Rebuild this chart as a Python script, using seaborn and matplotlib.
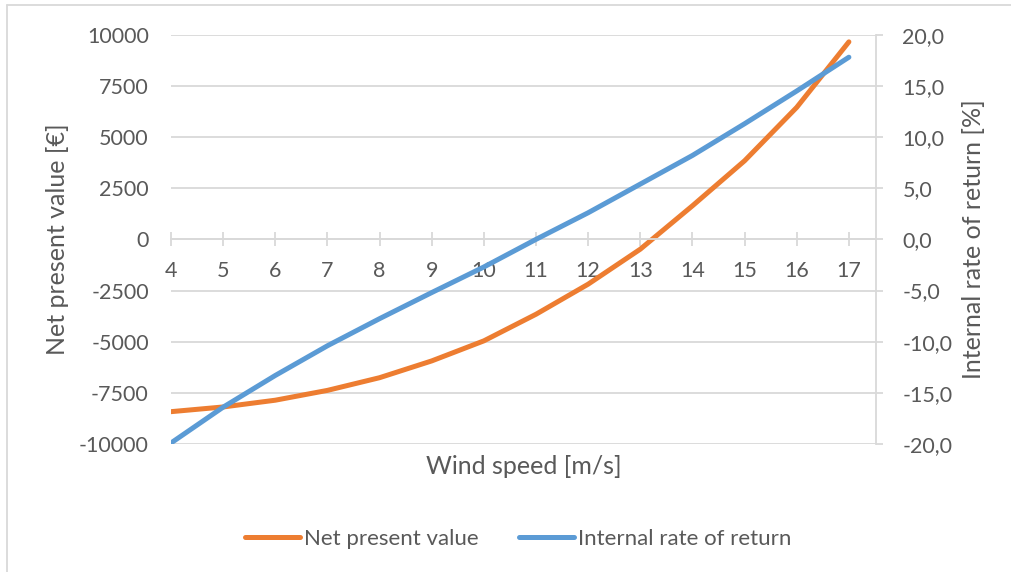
import matplotlib
matplotlib.use("Agg")
import matplotlib.pyplot as plt
from matplotlib.ticker import FuncFormatter, MultipleLocator
from matplotlib.lines import Line2D
import pandas as pd
import seaborn as sns

# Wind speed categories [m/s]
wind_speed = [4, 5, 6, 7, 8, 9, 10, 11, 12, 13, 14, 15, 16, 17]
# Net present value [EUR]
npv = [-8420, -8190, -7860, -7380, -6760, -5940, -4960,
       -3660, -2190, -480, 1640, 3840, 6450, 9650]
# Internal rate of return [%]
irr = [-19.9, -16.4, -13.3, -10.4, -7.75, -5.2, -2.7,
       0.0, 2.6, 5.4, 8.2, 11.3, 14.5, 17.8]

df = pd.DataFrame({"wind": wind_speed, "npv": npv, "irr": irr})

sns.set_theme(style="white")
plt.rcParams["font.family"] = ["Lato", "DejaVu Sans"]
plt.rcParams["axes.unicode_minus"] = False

TEXT = "#595959"
GRID = "#D9D9D9"
ORANGE = "#ED7D31"
BLUE = "#5B9BD5"
TICK_FS = 15.5
TITLE_FS = 18
LEG_FS = 16

W, H = 1012, 572
fig = plt.figure(figsize=(W / 100, H / 100), dpi=100)
ax = fig.add_axes([171 / W, 1 - 444 / H, (876 - 171) / W, (444 - 34.7) / H])
ax2 = ax.twinx()

sns.lineplot(data=df, x="wind", y="npv", ax=ax, color=ORANGE, linewidth=3.6,
             solid_capstyle="round", legend=False)
sns.lineplot(data=df, x="wind", y="irr", ax=ax2, color=BLUE, linewidth=3.6,
             solid_capstyle="round", legend=False)

# Left axis: net present value
ax.set_xlim(4, 17.52)
ax.set_ylim(-10000, 10000)
ax.yaxis.set_major_locator(MultipleLocator(2500))
ax.grid(axis="y", color=GRID, linewidth=1.3)
ax.grid(axis="x", visible=False)
for s in ["top", "right", "left"]:
    ax.spines[s].set_visible(False)
ax.spines["bottom"].set_position(("data", 0))
ax.spines["bottom"].set_color(GRID)
ax.spines["bottom"].set_linewidth(1.3)
ax.set_xticks(wind_speed)
ax.set_xticklabels([str(v) for v in wind_speed])
ax.tick_params(axis="x", direction="inout", length=10.5, width=1.3, color=GRID,
               labelsize=TICK_FS, labelcolor=TEXT, pad=10, bottom=True)
ax.tick_params(axis="y", length=0, labelsize=TICK_FS, labelcolor=TEXT, pad=16)
ax.set_ylabel("Net present value [€]", fontsize=TITLE_FS, color=TEXT)
ax.yaxis.set_label_coords(58 / W, 1 - 239.5 / H, transform=fig.transFigure)
ax.yaxis.label.set_va("center")
ax.set_xlabel("Wind speed [m/s]", fontsize=TITLE_FS, color=TEXT)
ax.xaxis.set_label_coords(0.5 * (171 + 876) / W, 1 - 466 / H, transform=fig.transFigure)
ax.xaxis.label.set_va("center")

# Right axis: internal rate of return
ax2.set_ylim(-20, 20)
ax2.yaxis.set_major_locator(MultipleLocator(5))
ax2.yaxis.set_major_formatter(FuncFormatter(lambda v, p: f"{v:.1f}".replace(".", ",")))
ax2.grid(False)
for s in ["top", "left", "bottom"]:
    ax2.spines[s].set_visible(False)
ax2.spines["right"].set_color(GRID)
ax2.spines["right"].set_linewidth(1.3)
ax2.tick_params(axis="y", direction="out", length=5, width=1.3, color=GRID,
                labelsize=TICK_FS, labelcolor=TEXT, pad=14, right=True)
ax2.set_ylabel("Internal rate of return [%]", fontsize=TITLE_FS, color=TEXT)
ax2.yaxis.set_label_coords(974 / W, 1 - 239.5 / H, transform=fig.transFigure)
ax2.yaxis.label.set_va("center")

# Legend below the plot
handles = [Line2D([], [], color=ORANGE, linewidth=3.6, solid_capstyle="round"),
           Line2D([], [], color=BLUE, linewidth=3.6, solid_capstyle="round")]
fig.legend(handles, ["Net present value", "Internal rate of return"],
           loc="center", bbox_to_anchor=(518 / W, 1 - 539 / H), ncol=2,
           frameon=False, fontsize=LEG_FS, labelcolor=TEXT, handlelength=2.5,
           handletextpad=0.17, columnspacing=1.8)

# Chart area border
fig.add_artist(Line2D([7 / W, 7 / W], [0, 1 - 5 / H], transform=fig.transFigure,
                      color=GRID, linewidth=1.3))
fig.add_artist(Line2D([7 / W, 1], [1 - 5 / H, 1 - 5 / H], transform=fig.transFigure,
                      color=GRID, linewidth=1.3))

fig.savefig("out.png", dpi=100, facecolor="white")
